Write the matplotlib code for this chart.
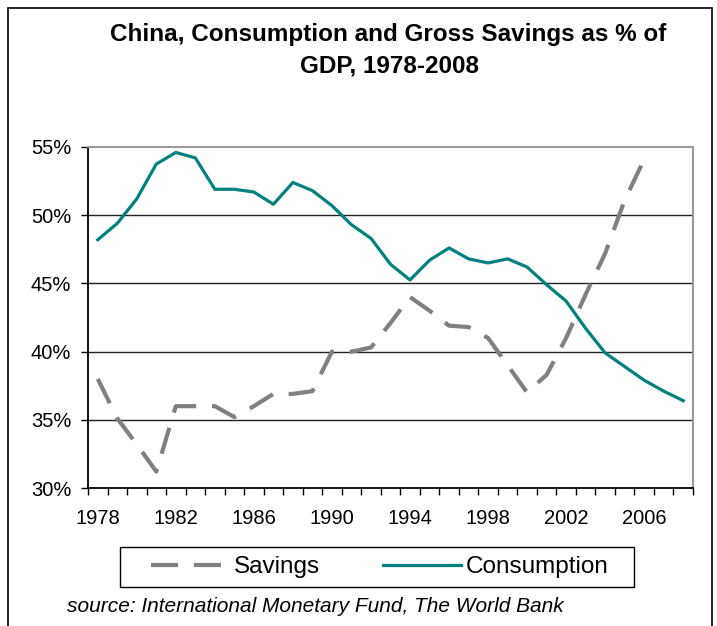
import matplotlib
matplotlib.use("Agg")
import matplotlib.pyplot as plt
import numpy as np
from matplotlib.patches import Rectangle

plt.rcParams['font.family'] = ['Liberation Sans', 'DejaVu Sans']

years = list(range(1978, 2009))
consumption = [48.2, 49.4, 51.2, 53.75, 54.6, 54.2, 51.9, 51.9, 51.7, 50.8,
               52.4, 51.8, 50.7, 49.3, 48.3, 46.4, 45.25, 46.7, 47.6, 46.8,
               46.5, 46.8, 46.2, 44.9, 43.7, 41.7, 39.9, 38.9, 37.9, 37.1, 36.4]
savings = [38.0, 35.1, 33.2, 31.2, 36.0, 36.0, 36.0, 35.2, 36.0, 36.9,
           36.9, 37.1, 40.0, 40.0, 40.3, 42.1, 44.0, 43.0, 41.9, 41.8,
           41.0, 39.0, 37.0, 38.3, 41.0, 44.2, 47.2, 51.1, 54.1, np.nan, np.nan]
label_years = [1978, 1982, 1986, 1990, 1994, 1998, 2002, 2006]
y_ticks = [30, 35, 40, 45, 50, 55]

fig = plt.figure(figsize=(7.17, 6.26), dpi=100)
ax = fig.add_axes([88/717, 1-488/626, (693-88)/717, (488-147)/626])

# gridlines
for v in [35, 40, 45, 50]:
    ax.axhline(v, color='#222222', lw=1.0, zorder=1)

ax.plot(years, savings, color='#808080', lw=3, dashes=(6.5, 3.8),
        label='Savings', zorder=3)
ax.plot(years, consumption, color='#008080', lw=2.3, label='Consumption',
        zorder=4)

ax.set_xlim(1977.5, 2008.5)
ax.set_ylim(30, 55)
ax.set_yticks(y_ticks)
ax.set_yticklabels([f'{v}%' for v in y_ticks])
ax.set_xticks(label_years)
ax.set_xticks(np.arange(1977.5, 2009.5, 1), minor=True)
ax.tick_params(axis='x', which='major', length=0, pad=15, labelsize=14.5)
ax.tick_params(axis='x', which='minor', length=5, width=1, color='black')
ax.tick_params(axis='y', length=5, width=1, labelsize=14.5, pad=7)

ax.spines['left'].set_color('black')
ax.spines['left'].set_linewidth(1.3)
ax.spines['bottom'].set_color('black')
ax.spines['bottom'].set_linewidth(1.3)
ax.spines['top'].set_color('#999999')
ax.spines['top'].set_linewidth(1.5)
ax.spines['right'].set_color('#999999')
ax.spines['right'].set_linewidth(1.5)

fig.text(388/717, 1-34/626, 'China, Consumption and Gross Savings as % of',
         ha='center', va='center', fontsize=17.5, fontweight='bold')
fig.text(389/717, 1-66/626, 'GDP, 1978-2008', ha='center', va='center',
         fontsize=17.5, fontweight='bold')

leg = fig.legend(loc='center', bbox_to_anchor=(380/717, 1-567/626), ncol=2,
                 fontsize=17.5, frameon=False, handlelength=3.2,
                 handletextpad=0.2, columnspacing=2.6, borderpad=0.3,
                 borderaxespad=0)

# legend box
fig.patches.append(Rectangle((120/717, 1-587/626), (634-120)/717, 40/626,
                             transform=fig.transFigure, fill=False,
                             edgecolor='black', lw=1.0))

fig.text(67/717, 1-607/626, 'source: International Monetary Fund, The World Bank',
         ha='left', va='center', fontsize=15, style='italic')

# outer chart frame
fig.patches.append(Rectangle((8/717, -0.1), (712-8)/717, 1.1-8/626,
                             transform=fig.transFigure, fill=False,
                             edgecolor='black', lw=1.2))

fig.savefig('out.png', dpi=100)
